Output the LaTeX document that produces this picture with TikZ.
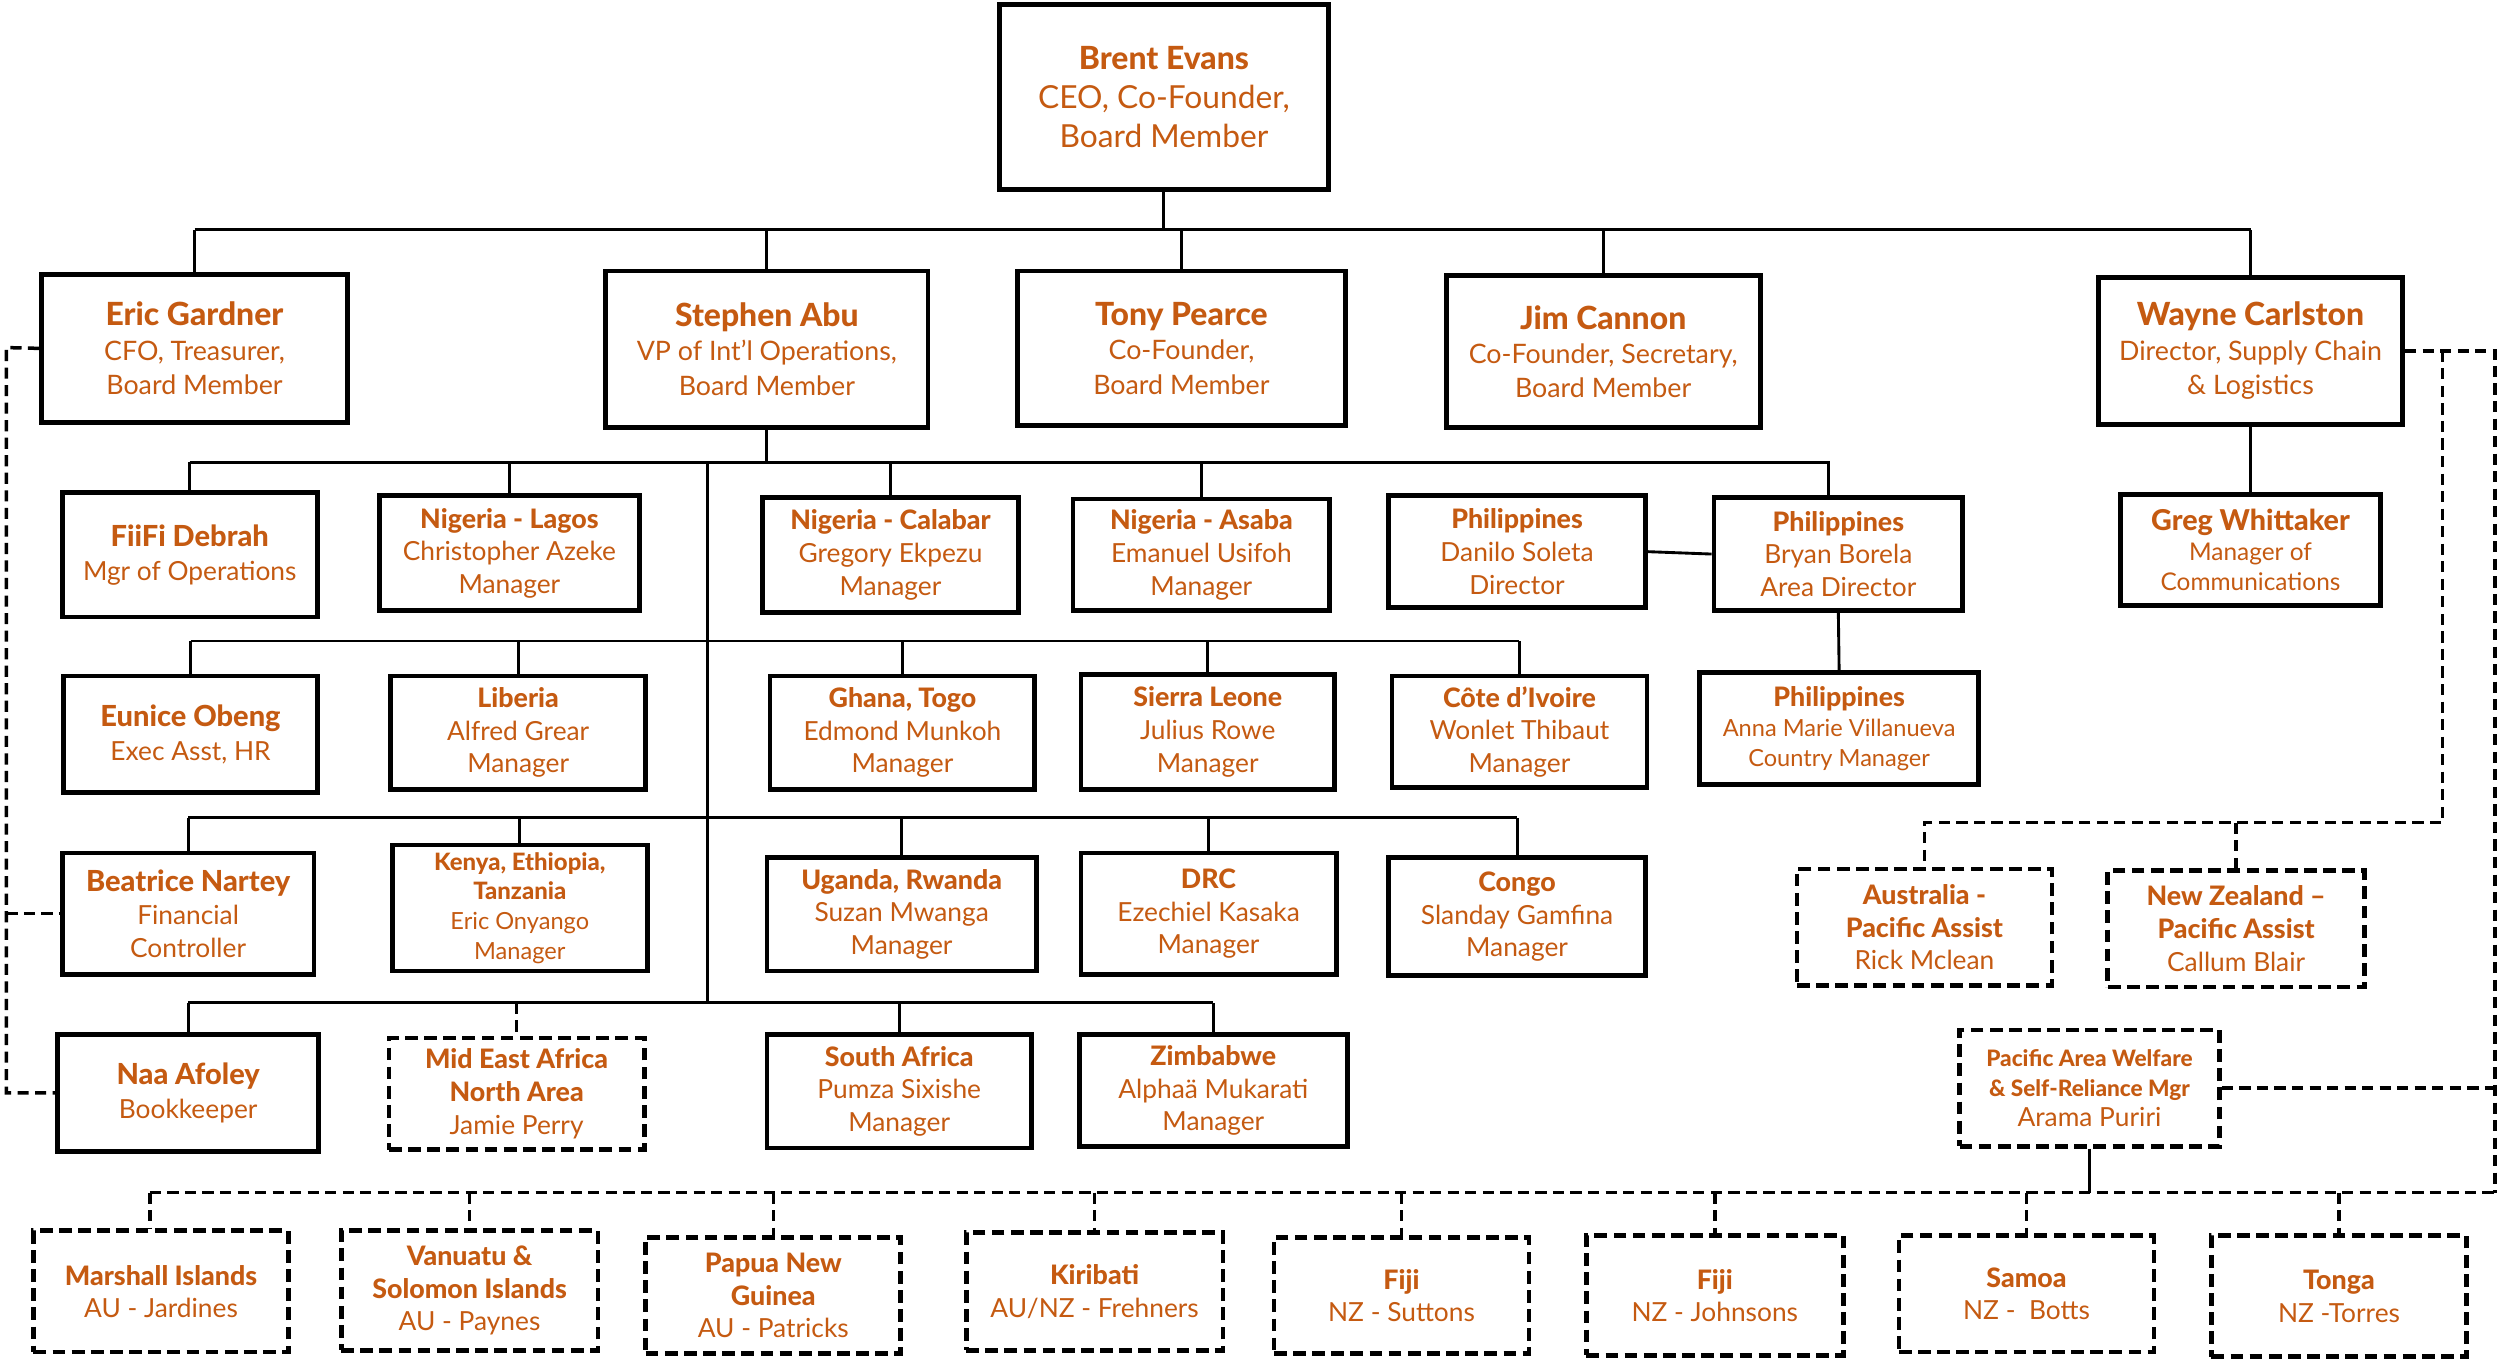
\documentclass[tikz,border=0pt]{standalone}
\usepackage{fontspec}
\setmainfont{Lato}[BoldFont={Lato Heavy}]
\definecolor{txt}{HTML}{C55A11}
\newcommand\nm[2][16.8]{{\fontsize{#1}{20}\selectfont\bfseries #2}}
\newcommand\rg[2]{{\fontsize{#1}{20}\selectfont #2}}
\newcommand\ob[7]{\node[#6, minimum width={(#4-#2)*1pt}, minimum height={(#5-#3)*1pt}] (#1) at ({(#2+#4)/2},{-(#3+#5)/2}) {#7};}
\tikzset{
  box/.style={draw, line width=3pt, rectangle, inner sep=0pt, align=center, text=txt,
    font=\fontsize{16.5}{20.5}\selectfont},
  dbox/.style={box, dash pattern=on 8pt off 4pt},
  big/.style={font=\fontsize{19.9}{24.5}\selectfont},
  med/.style={font=\fontsize{16.8}{21.5}\selectfont},
  skipa/.style={font=\fontsize{16.5}{21}\selectfont},
  small/.style={font=\fontsize{14.8}{18.7}\selectfont},
  conn/.style={line width=1.8pt},
  dconn/.style={line width=2.2pt, dash pattern=on 7pt off 4pt}
}
\begin{document}
\begin{tikzpicture}[x=1pt,y=1pt]
\fill[white] (0,0) rectangle (1568,-854);
\useasboundingbox (0,0) rectangle (1568,-854);
% row 0/1
\ob{brent}{627}{3}{833}{119}{box,big}{\nm[20]{Brent Evans}\\CEO, Co-Founder,\\Board Member}
\ob{eric}{26}{172}{218}{265}{box,med}{\nm[20]{Eric Gardner}\\CFO, Treasurer,\\Board Member}
\ob{steph}{380}{170}{582}{268}{box,med}{\nm[20]{Stephen Abu}\\VP of Int’l Operations,\\Board Member}
\ob{tony}{638}{170}{844}{267}{box,med}{\nm[20]{Tony Pearce}\\Co-Founder,\\Board Member}
\ob{jim}{907}{173}{1104}{268}{box,med}{\nm[20]{Jim Cannon}\\Co-Founder, Secretary,\\Board Member}
\ob{wayne}{1316}{174}{1507}{266}{box,med}{\nm[20]{Wayne Carlston}\\Director, Supply Chain\\\& Logistics}
% row 2
\ob{fiifi}{39}{309}{199}{387}{box,skipa}{\nm[18.2]{FiiFi Debrah}\\Mgr of Operations}
\ob{lagos}{238}{311}{401}{383}{box}{\nm{Nigeria - Lagos}\\Christopher Azeke\\Manager}
\ob{calabar}{478}{312}{639}{384}{box}{\nm{Nigeria - Calabar}\\Gregory Ekpezu\\Manager}
\ob{asaba}{673}{313}{834}{383}{box}{\nm{Nigeria - Asaba}\\Emanuel Usifoh\\Manager}
\ob{danilo}{871}{311}{1032}{381}{box}{\nm{Philippines}\\Danilo Soleta\\Director}
\ob{bryan}{1075}{312}{1231}{383}{box}{\nm{Philippines}\\Bryan Borela\\Area Director}
\ob{greg}{1330}{310}{1493}{380}{box,small}{\nm[18]{Greg Whittaker}\\\rg{15.3}{Manager of}\\\rg{15.3}{Communications}}
% row 3
\ob{eunice}{40}{424}{199}{497}{box,skipa}{\nm[18.2]{Eunice Obeng}\\Exec Asst, HR}
\ob{liberia}{245}{424}{405}{495}{box}{\nm{Liberia}\\Alfred Grear\\Manager}
\ob{ghana}{483}{424}{649}{495}{box}{\nm{Ghana, Togo}\\Edmond Munkoh\\Manager}
\ob{sierra}{678}{423}{837}{495}{box}{\nm{Sierra Leone}\\Julius Rowe\\Manager}
\ob{cote}{873}{424}{1033}{494}{box}{\nm{Côte d'Ivoire}\\Wonlet Thibaut\\Manager}
\ob{anna}{1066}{422}{1241}{492}{box,small}{\nm{Philippines}\\Anna Marie Villanueva\\Country Manager}
% row 4
\ob{beatrice}{39}{535}{197}{611}{box}{\nm[18.2]{Beatrice Nartey}\\Financial\\Controller}
\ob{kenya}{246}{530}{406}{609}{box,small}{\nm[15]{Kenya, Ethiopia,}\\\nm[15]{Tanzania}\\Eric Onyango\\Manager}
\ob{uganda}{481}{538}{650}{609}{box}{\nm{Uganda, Rwanda}\\Suzan Mwanga\\Manager}
\ob{drc}{678}{535}{838}{611}{box}{\nm{DRC}\\Ezechiel Kasaka\\Manager}
\ob{congo}{871}{538}{1032}{612}{box}{\nm{Congo}\\Slanday Gamfina\\Manager}
\ob{aus}{1127}{545}{1287}{618}{dbox}{\nm{Australia -}\\\nm{Pacific Assist}\\Rick Mclean}
\ob{nz}{1322}{546}{1483}{619}{dbox}{\nm{New Zealand –}\\\nm{Pacific Assist}\\Callum Blair}
% row 5
\ob{naa}{36}{649}{200}{722}{box,skipa}{\nm[18.2]{Naa Afoley}\\Bookkeeper}
\ob{mideast}{244}{651}{404}{721}{dbox}{\nm{Mid East Africa}\\\nm{North Area}\\Jamie Perry}
\ob{sa}{481}{649}{647}{720}{box}{\nm{South Africa}\\Pumza Sixishe\\Manager}
\ob{zim}{677}{649}{845}{719}{box}{\nm{Zimbabwe}\\Alphaä Mukarati\\Manager}
\ob{pacific}{1229}{646}{1392}{719}{dbox,small}{\nm[14.2]{Pacific Area Welfare}\\\nm[14.2]{\& Self-Reliance Mgr}\\\rg{16.5}{Arama Puriri}}
% bottom row
\ob{marshall}{21}{772}{181}{848}{dbox}{\nm{Marshall Islands}\\AU - Jardines}
\ob{vanuatu}{214}{772}{375}{847}{dbox}{\nm{Vanuatu \&}\\\nm{Solomon Islands}\\AU - Paynes}
\ob{png}{405}{776}{565}{849}{dbox}{\nm{Papua New}\\\nm{Guinea}\\AU - Patricks}
\ob{kiribati}{606}{773}{767}{847}{dbox}{\nm{Kiribati}\\AU/NZ - Frehners}
\ob{fijia}{799}{776}{959}{849}{dbox}{\nm{Fiji}\\NZ - Suttons}
\ob{fijib}{995}{775}{1156}{850}{dbox}{\nm{Fiji}\\NZ - Johnsons}
\ob{samoa}{1191}{775}{1351}{848}{dbox}{\nm{Samoa}\\NZ -\ \ Botts}
\ob{tonga}{1387}{775}{1547}{851}{dbox}{\nm{Tonga}\\NZ -Torres}
% bus coordinates
\coordinate (b0) at (0,-144);
\coordinate (b2) at (0,-290);
\coordinate (b3) at (0,-402);
\coordinate (b4) at (0,-513);
\coordinate (b5) at (0,-629);
\coordinate (b6) at (0,-516);
\coordinate (bb) at (0,-748);
\coordinate (trunk) at (444,-290);
\coordinate (el) at (4,-218);
\coordinate (wr) at (1565,-220);
\coordinate (wj) at (1532,-220);
\coordinate (mc) at (94,-748);
\coordinate (bc) at ([xshift=-6pt]bryan.north);
% top level
\draw[conn] (brent.south) -- (brent.south |- b0);
\draw[conn] (eric.north |- b0) -- (wayne.north |- b0);
\foreach \n in {eric,steph,tony,jim,wayne} \draw[conn] (\n.north) -- (\n.north |- b0);
% Stephen subtree
\draw[conn] (steph.south) -- (steph.south |- b2);
\draw[conn] (trunk) -- (trunk |- b5);
\draw[conn] (fiifi.north |- b2) -- (bc |- b2) -- (bc);
\foreach \n in {fiifi,lagos,calabar,asaba} \draw[conn] (\n.north) -- (\n.north |- b2);
\draw[conn] (eunice.north |- b3) -- (cote.north |- b3);
\foreach \n in {eunice,liberia,ghana,sierra,cote} \draw[conn] (\n.north) -- (\n.north |- b3);
\draw[conn] (beatrice.north |- b4) -- (congo.north |- b4);
\foreach \n in {beatrice,kenya,uganda,drc,congo} \draw[conn] (\n.north) -- (\n.north |- b4);
\draw[conn] (naa.north |- b5) -- (zim.north |- b5);
\foreach \n in {naa,sa,zim} \draw[conn] (\n.north) -- (\n.north |- b5);
\draw[dconn] (mideast.north |- b5) -- (mideast.north);
\draw[conn] (danilo.east) -- (bryan.west);
\draw[conn] (bryan.south) -- (anna.north);
\draw[conn] (wayne.south) -- (greg.north);
% Eric dotted line
\draw[dconn] (eric.west) -- (el) |- (naa.west);
\draw[dconn] (el |- beatrice.west) -- (beatrice.west);
% Wayne dotted lines
\draw[dconn] (wayne.east) -- (wr) -- (wr |- bb);
\draw[dconn] (wj) -- (wj |- b6) -- (aus.north |- b6) -- (aus.north);
\draw[dconn] (nz.north |- b6) -- (nz.north);
\draw[dconn] (pacific.east) -- (pacific.east -| wr);
\draw[conn] (pacific.south) -- (pacific.south |- bb);
\draw[dconn] (mc) -- (wr |- bb);
\draw[dconn] (mc) -- (mc |- marshall.north);
\foreach \n in {vanuatu,png,kiribati,fijia,fijib,samoa,tonga} \draw[dconn] (\n.north |- bb) -- (\n.north);
\end{tikzpicture}
\end{document}
